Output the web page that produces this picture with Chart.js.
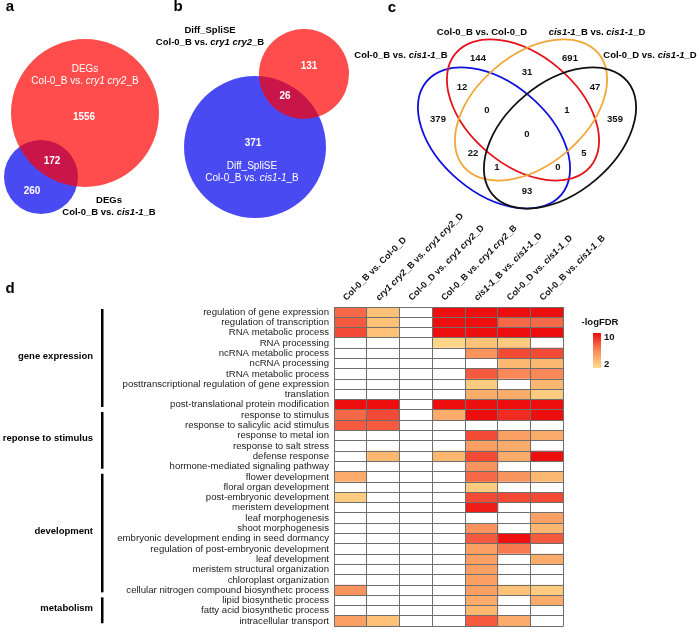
<!DOCTYPE html>
<html>
<head>
<meta charset="utf-8">
<script src="https://cdn.jsdelivr.net/npm/chart.js@4.4.1/dist/chart.umd.min.js"></script>
<style>
  body { margin: 0; background: #fff; }
  #wrap { position: relative; width: 700px; height: 637px; }
  #wrap canvas { position: absolute; left: 0; top: 0; }
</style>
</head>
<body>
<div id="wrap">
  <canvas id="heat" width="700" height="637"></canvas>
  <canvas id="venn" width="700" height="230"></canvas>
</div>
<script>
// ---- data ----
// *...* marks italic parts
const terms = [
  'regulation of gene expression', 'regulation of transcription', 'RNA metabolic process',
  'RNA processing', 'ncRNA metabolic process', 'ncRNA processing', 'tRNA metabolic process',
  'posttranscriptional regulation of gene expression', 'translation',
  'post-translational protein modification', 'response to stimulus',
  'response to salicylic acid stimulus', 'response to metal ion', 'response to salt stress',
  'defense response', 'hormone-mediated signaling pathway', 'flower development',
  'floral organ development', 'post-embryonic development', 'meristem development',
  'leaf morphogenesis', 'shoot morphogenesis', 'embryonic development ending in seed dormancy',
  'regulation of post-embryonic development', 'leaf development',
  'meristem structural organization', 'chloroplast organization',
  'cellular nitrogen compound biosynthetc process', 'lipid biosynthetic process',
  'fatty acid biosynthetic process', 'intracellular transport'
];

const comparisons = [
  'Col-0_B vs. Col-0_D',
  '*cry1 cry2*_B vs. *cry1 cry2*_D',
  'Col-0_D vs. *cry1 cry2*_D',
  'Col-0_B vs. *cry1 cry2*_B',
  '*cis1-1*_B vs. *cis1-1*_D',
  'Col-0_D vs. *cis1-1*_D',
  'Col-0_B vs. *cis1-1*_B'
];

// -logFDR per comparison (0 = not enriched)
const fdrCol0BD  = [7, 7.5, 8, 0, 0, 0, 0, 0, 0, 10, 7, 7.5, 0, 0, 0, 0, 4.5, 0, 3, 0, 0, 0, 0, 0, 0, 0, 0, 5.5, 0, 0, 5];
const fdrCryBD   = [3.5, 3.5, 3.5, 0, 0, 0, 0, 0, 0, 10, 8, 7.5, 0, 0, 4, 0, 0, 0, 0, 0, 0, 0, 0, 0, 0, 0, 0, 0, 0, 0, 3.5];
const fdrCol0DCryD = [0, 0, 0, 0, 0, 0, 0, 0, 0, 0, 0, 0, 0, 0, 0, 0, 0, 0, 0, 0, 0, 0, 0, 0, 0, 0, 0, 0, 0, 0, 0];
const fdrCol0BCryB = [10, 10, 10, 2.5, 0, 0, 0, 0, 0, 10, 4.5, 0, 0, 0, 4, 0, 0, 0, 0, 0, 0, 0, 0, 0, 0, 0, 0, 0, 0, 0, 0];
const fdrCisBD   = [10, 10, 10, 3.5, 5.5, 0, 7.5, 3, 4.5, 10, 10, 0, 8, 5, 8, 5.5, 7, 3, 8, 9.5, 0, 5.5, 7.5, 5, 5, 5, 5, 5, 4.5, 4, 7.5];
const fdrCol0DCisD = [10, 7, 10, 3, 8, 4, 6, 0, 4.5, 10, 9, 0, 5, 4.5, 4.5, 0, 5.5, 0, 8, 0, 0, 0, 10, 6.5, 0, 0, 0, 3.5, 0, 0, 4.5];
const fdrCol0BCisB = [10, 7, 10, 0, 8, 4, 6, 4, 3, 10, 10, 0, 4.5, 0, 10, 0, 4, 0, 8, 0, 5, 4, 7.5, 0, 4.5, 0, 0, 3, 4.5, 0, 0];
const fdrColumns = [fdrCol0BD, fdrCryBD, fdrCol0DCryD, fdrCol0BCryB, fdrCisBD, fdrCol0DCisD, fdrCol0BCisB];

const groupNames = ['gene expression', 'reponse to stimulus', 'development', 'metabolism'];
const groupFirst = [0, 10, 16, 28];
const groupLast  = [9, 15, 27, 30];

const legendTicks = [10, 2];

// Venn counts
const countsA = [1556, 172, 260];          // red only, both, blue only
const countsB = [131, 26, 371];            // red only, both, blue only
const countsC = [144, 691, 31, 12, 47, 0, 1, 379, 359, 0, 22, 5, 1, 0, 93];
const setsA = ['DEGs\nCol-0_B vs. *cry1 cry2*_B', 'DEGs\nCol-0_B vs. *cis1-1*_B'];
const setsB = ['Diff_SpliSE\nCol-0_B vs. *cry1 cry2*_B', 'Diff_SpliSE\nCol-0_B vs. *cis1-1*_B'];
const setsC = ['Col-0_B vs. *cis1-1*_B', 'Col-0_B vs. Col-0_D', '*cis1-1*_B vs. *cis1-1*_D', 'Col-0_D vs. *cis1-1*_D'];

// ---- layout (pixels) ----
const FONT = '"Liberation Sans", Arial, Helvetica, sans-serif';
const circles = {
  aRed: { x: 85, y: 113, r: 74 }, aBlue: { x: 41, y: 177, r: 37 },
  bRed: { x: 304, y: 74, r: 45 }, bBlue: { x: 255, y: 147, r: 71 }
};
const spotsA = [[84, 117], [52, 161], [32, 191]];
const spotsB = [[309, 66], [285, 96], [253, 143]];
const spotsC = [[478, 58], [570, 58], [527, 72], [462, 87], [595, 87], [487, 110], [567, 110],
  [438, 119], [615, 119], [527, 134], [473, 153], [584, 153], [497, 167], [558, 167], [527, 191]];
const setLabelSpotsC = [[401, 55], [482, 32], [597, 32], [650, 55]];
const ellipses = [
  { x: 494, y: 138, rot: 40, color: '#1010dc' },
  { x: 523, y: 110, rot: 40, color: '#e5121c' },
  { x: 531, y: 110, rot: -40, color: '#f2a63a' },
  { x: 560, y: 138, rot: -40, color: '#111111' }
];
const ELL_A = 88, ELL_B = 55;

const colorStops = [[2, [254, 222, 142]], [4, [252, 184, 112]], [6, [249, 136, 88]], [8, [243, 74, 54]], [10, [237, 14, 14]]];

function fdrColor(v) {
  if (!v) return '#ffffff';
  if (v <= colorStops[0][0]) return 'rgb(' + colorStops[0][1].join(',') + ')';
  for (let i = 1; i < colorStops.length; i++) {
    const [v1, c1] = colorStops[i];
    const [v0, c0] = colorStops[i - 1];
    if (v <= v1) {
      const t = (v - v0) / (v1 - v0);
      const c = c0.map((x, k) => Math.round(x + (c1[k] - x) * t));
      return 'rgb(' + c.join(',') + ')';
    }
  }
  return 'rgb(' + colorStops[colorStops.length - 1][1].join(',') + ')';
}

// draws text where *...* is italic
function drawRich(ctx, text, x, y, size, weight, color, align) {
  const parts = text.split('*');
  const fonts = parts.map((p, i) => (i % 2 ? 'italic ' : '') + weight + ' ' + size + 'px ' + FONT);
  const widths = parts.map((p, i) => { ctx.font = fonts[i]; return ctx.measureText(p).width; });
  const total = widths.reduce((a, b) => a + b, 0);
  let cx = align === 'center' ? x - total / 2 : (align === 'right' ? x - total : x);
  ctx.textAlign = 'left';
  ctx.fillStyle = color;
  parts.forEach((p, i) => { ctx.font = fonts[i]; ctx.fillText(p, cx, y); cx += widths[i]; });
}

function drawLines(ctx, text, x, y, lh, size, weight, color) {
  text.split('\n').forEach((line, i) => drawRich(ctx, line, x, y + i * lh, size, weight, color, 'center'));
}

// ---- Venn panels ----
const vennText = {
  id: 'vennText',
  afterDatasetsDraw(chart) {
    const { ctx, scales: { x, y } } = chart;
    const px = v => x.getPixelForValue(v), py = v => y.getPixelForValue(v);
    ctx.save();
    ctx.textBaseline = 'middle';

    ellipses.forEach(e => {
      ctx.beginPath();
      ctx.ellipse(px(e.x), py(e.y), ELL_A, ELL_B, e.rot * Math.PI / 180, 0, 2 * Math.PI);
      ctx.strokeStyle = e.color;
      ctx.lineWidth = 1.8;
      ctx.stroke();
    });

    // panel letters
    [['a', 10, 7], ['b', 178, 7], ['c', 392, 8]].forEach(([t, lx, ly]) =>
      drawRich(ctx, t, px(lx), py(ly), 15, 'bold', '#000', 'center'));

    // panel a
    drawLines(ctx, setsA[0], px(85), py(69), 12, 10, 'normal', '#fff');
    drawLines(ctx, setsA[1], px(109), py(200), 12, 9.5, 'bold', '#000');
    countsA.forEach((c, i) => drawRich(ctx, String(c), px(spotsA[i][0]), py(spotsA[i][1]), 10, 'bold', '#fff', 'center'));

    // panel b
    drawLines(ctx, setsB[0], px(210), py(30), 12, 9.5, 'bold', '#000');
    drawLines(ctx, setsB[1], px(252), py(166), 12, 10, 'normal', '#fff');
    countsB.forEach((c, i) => drawRich(ctx, String(c), px(spotsB[i][0]), py(spotsB[i][1]), 10, 'bold', '#fff', 'center'));

    // panel c
    setsC.forEach((s, i) => drawRich(ctx, s, px(setLabelSpotsC[i][0]), py(setLabelSpotsC[i][1]), 9.5, 'bold', '#000', 'center'));
    countsC.forEach((c, i) => drawRich(ctx, String(c), px(spotsC[i][0]), py(spotsC[i][1]), 9.5, 'bold', '#111', 'center'));
    ctx.restore();
  }
};

new Chart(document.getElementById('venn'), {
  type: 'bubble',
  data: {
    datasets: [
      { data: [circles.aRed, circles.bRed], backgroundColor: 'rgba(255,0,0,0.7)', borderWidth: 0 },
      { data: [circles.aBlue, circles.bBlue], backgroundColor: 'rgba(0,0,238,0.71)', borderWidth: 0 }
    ]
  },
  options: {
    responsive: false,
    animation: false,
    events: [],
    layout: { padding: 0, autoPadding: false },
    plugins: { legend: { display: false }, tooltip: { enabled: false } },
    scales: {
      x: { type: 'linear', min: 0, max: 700, display: false },
      y: { type: 'linear', min: 0, max: 230, reverse: true, display: false }
    }
  },
  plugins: [vennText]
});

// ---- heatmap ----
const heatDecor = {
  id: 'heatDecor',
  afterDraw(chart) {
    const { ctx, chartArea, scales: { x, y } } = chart;
    const rowH = y.getPixelForValue(1) - y.getPixelForValue(0);
    ctx.save();
    ctx.textBaseline = 'alphabetic';

    // column labels
    comparisons.forEach((lab, j) => {
      ctx.save();
      ctx.translate(x.getPixelForValue(j + 0.5) - 4, chartArea.top - 6);
      ctx.rotate(-Math.PI / 4);
      drawRich(ctx, lab, 0, 0, 9, 'bold', '#111', 'left');
      ctx.restore();
    });

    // group brackets
    ctx.textBaseline = 'middle';
    groupNames.forEach((g, i) => {
      const top = y.getPixelForValue(groupFirst[i]) - rowH / 2 + 2;
      const bot = y.getPixelForValue(groupLast[i]) + rowH / 2 - 3;
      ctx.fillStyle = '#000';
      ctx.fillRect(101, top, 2.5, bot - top);
      drawRich(ctx, g, 93, (top + bot) / 2 - 2, 9.5, 'bold', '#000', 'right');
    });

    // panel letter
    drawRich(ctx, 'd', 10, 289, 15, 'bold', '#000', 'center');

    // colour legend
    const lx = 593, ly = 333, lw = 8, lh = 35;
    const grad = ctx.createLinearGradient(0, ly, 0, ly + lh);
    grad.addColorStop(0, fdrColor(10));
    grad.addColorStop(0.5, fdrColor(6));
    grad.addColorStop(1, fdrColor(2));
    ctx.fillStyle = grad;
    ctx.fillRect(lx, ly, lw, lh);
    drawRich(ctx, '-logFDR', 600, 322, 9.5, 'bold', '#111', 'center');
    drawRich(ctx, String(legendTicks[0]), lx + lw + 3, ly + 4, 9.5, 'bold', '#111', 'left');
    drawRich(ctx, String(legendTicks[1]), lx + lw + 3, ly + lh - 4, 9.5, 'bold', '#111', 'left');
    ctx.restore();
  }
};

new Chart(document.getElementById('heat'), {
  type: 'bar',
  data: {
    labels: terms,
    datasets: fdrColumns.map((col, j) => ({
      label: comparisons[j],
      data: col.map(() => 1),
      backgroundColor: col.map(fdrColor),
      borderWidth: 0,
      barPercentage: 1,
      categoryPercentage: 1
    }))
  },
  options: {
    indexAxis: 'y',
    responsive: false,
    animation: false,
    events: [],
    layout: { padding: { top: 307, bottom: 2, left: 0, right: 136.5 } },
    plugins: { legend: { display: false }, tooltip: { enabled: false } },
    scales: {
      x: {
        stacked: true, min: 0, max: 7, position: 'top',
        ticks: { display: false, stepSize: 1 },
        grid: { color: '#6e6e6e', lineWidth: 1, drawTicks: false, z: 1 },
        border: { color: '#6e6e6e', width: 1, z: 1 },
        afterFit: s => { s.height = 0; }
      },
      y: {
        stacked: true,
        ticks: { font: { family: FONT, size: 9.6 }, color: '#1c1c1c', padding: 5, autoSkip: false },
        grid: { color: '#6e6e6e', lineWidth: 1, drawTicks: false, z: 1 },
        border: { color: '#6e6e6e', width: 1, z: 1 },
        afterFit: s => { s.width = 334; }
      }
    }
  },
  plugins: [heatDecor]
});
</script>
</body>
</html>
